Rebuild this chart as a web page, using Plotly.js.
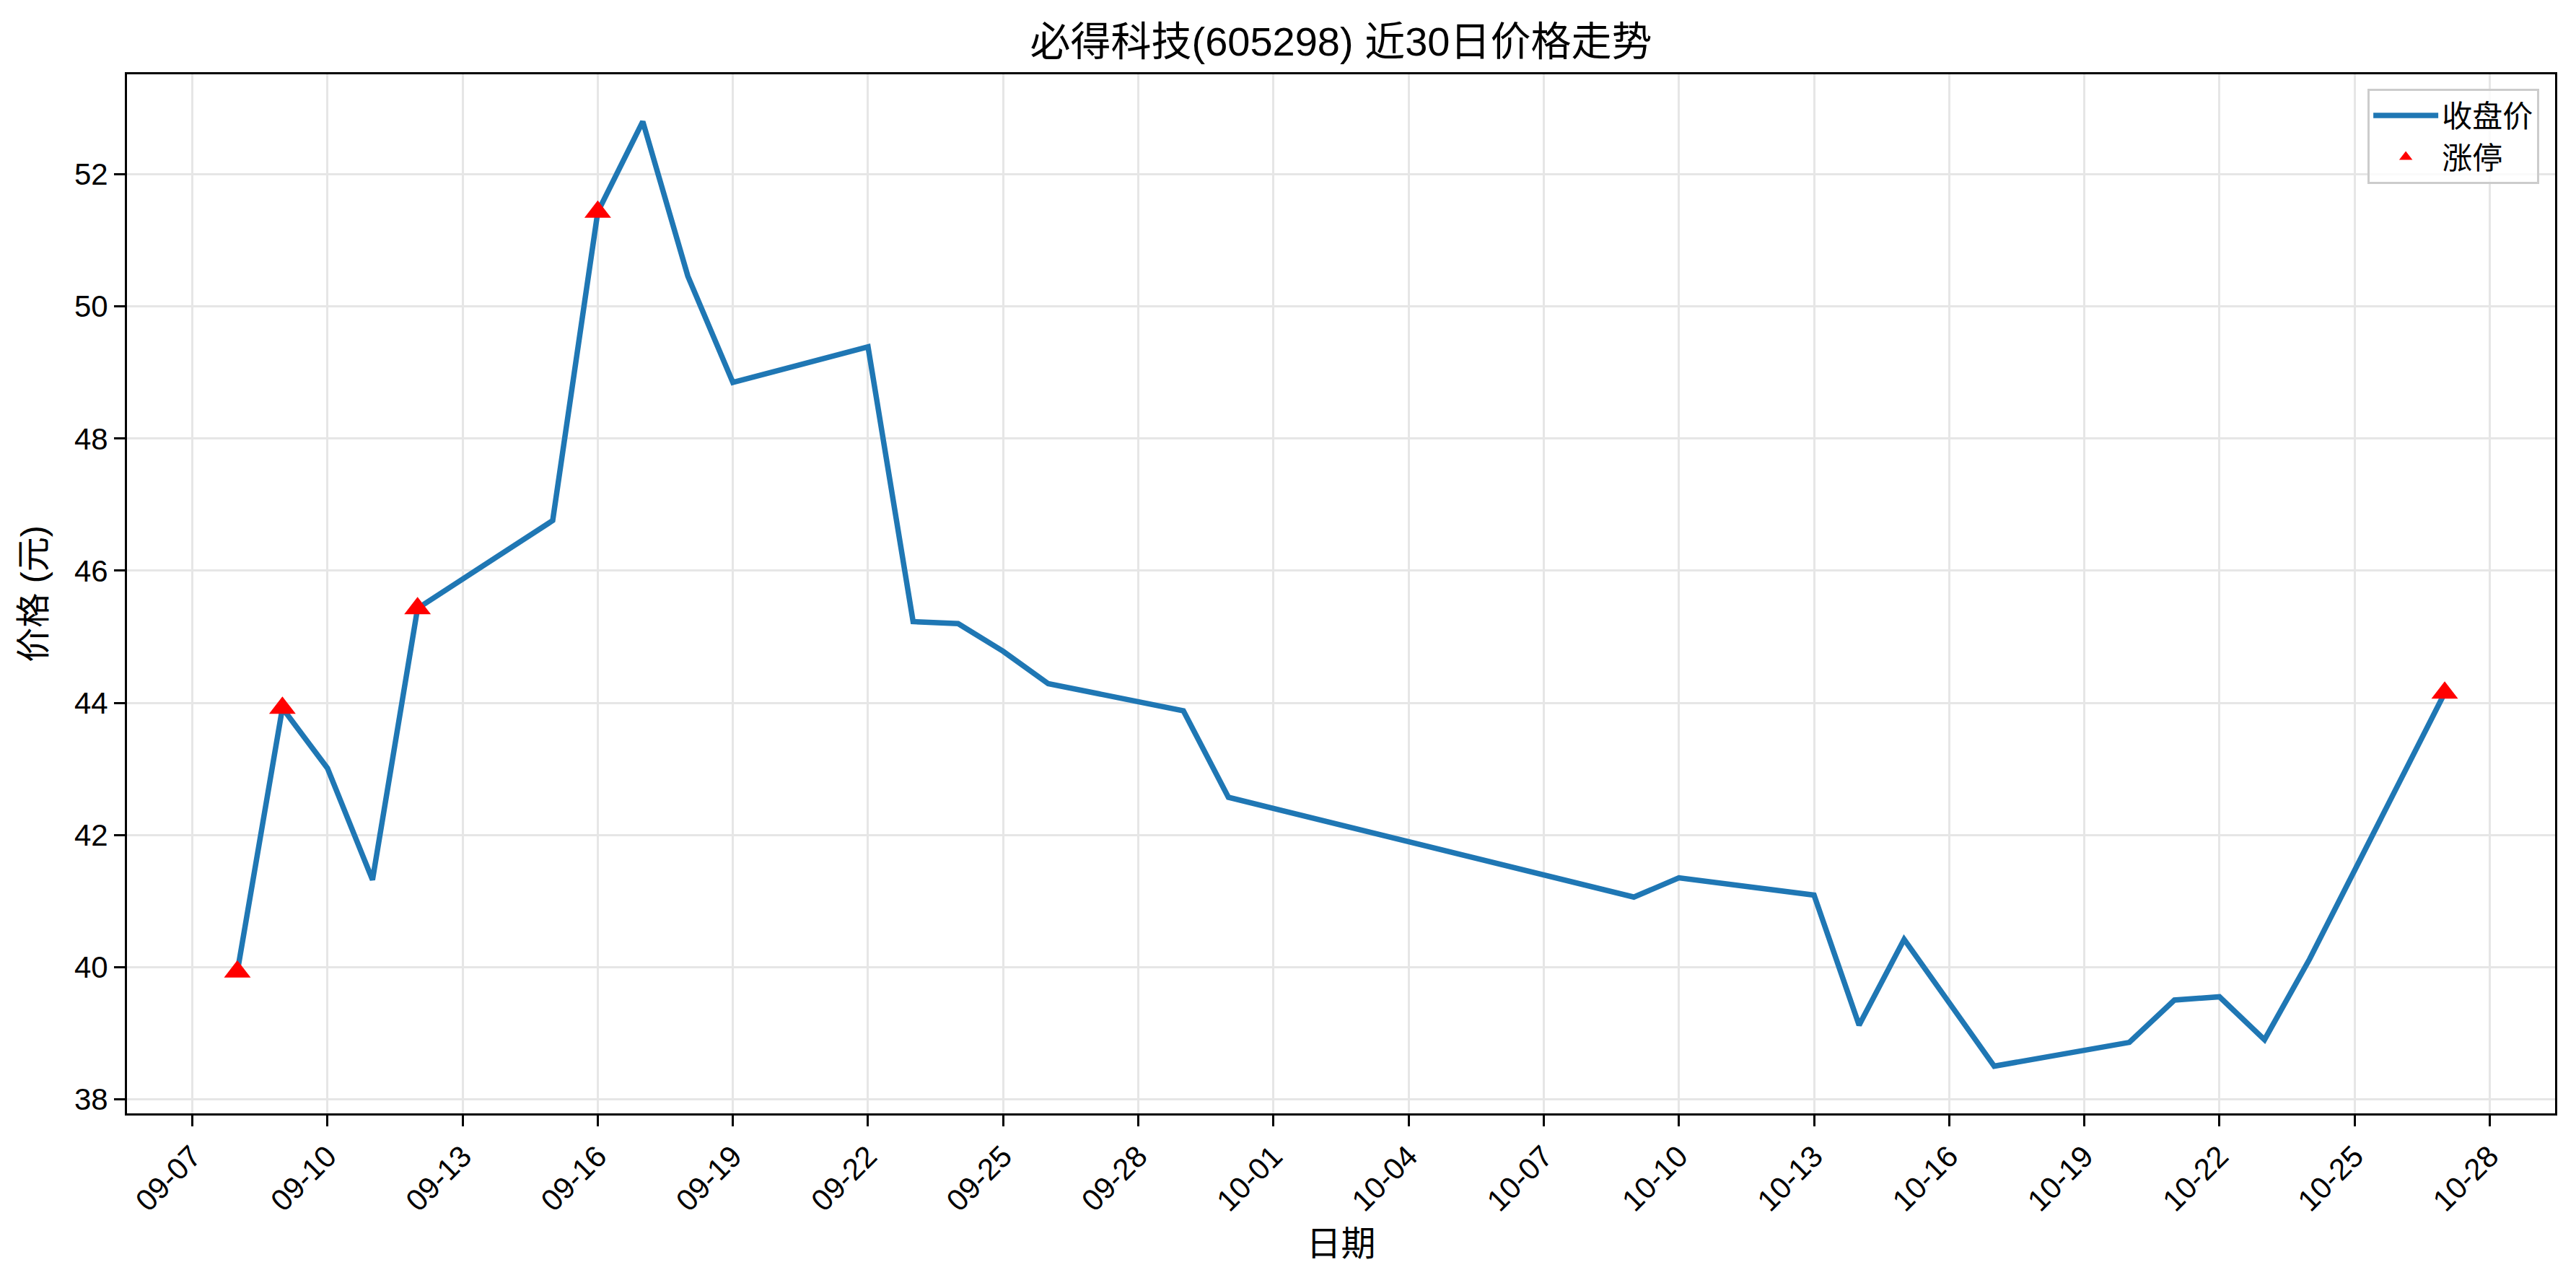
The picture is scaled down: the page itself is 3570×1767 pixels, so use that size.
<!DOCTYPE html>
<html>
<head>
<meta charset="utf-8">
<script src="https://cdn.plot.ly/plotly-3.0.1.min.js"></script>
<style>html,body{margin:0;padding:0;background:#fff;}#chart{width:3570px;height:1767px;}</style>
</head>
<body>
<div id="chart"></div>
<script>
const tradeDates = ['2025-09-08','2025-09-09','2025-09-10','2025-09-11','2025-09-12','2025-09-15','2025-09-16','2025-09-17','2025-09-18','2025-09-19','2025-09-22','2025-09-23','2025-09-24','2025-09-25','2025-09-26','2025-09-29','2025-09-30','2025-10-09','2025-10-10','2025-10-13','2025-10-14','2025-10-15','2025-10-16','2025-10-17','2025-10-20','2025-10-21','2025-10-22','2025-10-23','2025-10-24','2025-10-27'];
const closePrices = [39.93, 43.92, 43.01, 41.32, 45.43, 46.76, 51.43, 52.80, 50.46, 48.85, 49.39, 45.23, 45.20, 44.78, 44.29, 43.88, 42.57, 41.06, 41.35, 41.09, 39.12, 40.42, 39.46, 38.50, 38.86, 39.50, 39.55, 38.90, 40.12, 44.15];
const limitUpDates = ['2025-09-08','2025-09-09','2025-09-12','2025-09-16','2025-10-27'];
const limitUpPrices = limitUpDates.map(d => closePrices[tradeDates.indexOf(d)]);
const titleText = '必得科技(605298) 近30日价格走势';
const xLabel = '日期';
const yLabel = '价格 (元)';
const seriesNames = ['收盘价', '涨停'];

const FONT = 'Liberation Sans, Arial, "Noto Sans CJK SC", sans-serif';

const traces = [
  {x: tradeDates, y: closePrices, type: 'scatter', mode: 'lines', name: seriesNames[0],
   line: {color: '#1f77b4', width: 7.5}},
  {x: limitUpDates, y: limitUpPrices, type: 'scatter', mode: 'markers', name: seriesNames[1],
   marker: {symbol: 'triangle-up', color: '#ff0000', size: 32}}
];

const layout = {
  width: 3570, height: 1767,
  paper_bgcolor: '#ffffff', plot_bgcolor: '#ffffff',
  font: {family: FONT, color: '#000000', size: 42},
  margin: {l: 176, r: 29, t: 103, b: 224},
  title: {text: titleText, font: {size: 56, family: FONT, color: '#000'},
          x: 0.5, xref: 'paper', y: 1 - 57/1767, yref: 'container', yanchor: 'middle'},
  showlegend: true,
  legend: {x: 0.9935, xanchor: 'right', y: 0.986, yanchor: 'top',
           bgcolor: 'rgba(255,255,255,0.8)', bordercolor: '#cccccc', borderwidth: 3,
           font: {size: 42, family: FONT}, itemwidth: 90, tracegroupgap: 0},
  xaxis: {
    type: 'date',
    range: ['2025-09-05 13:12', '2025-10-29 10:48'],
    tick0: '2025-09-07', dtick: 3*86400000, tickformat: '%m-%d',
    tickangle: -45, ticks: 'outside', ticklen: 15, tickwidth: 3, tickcolor: '#000',
    showline: true, linecolor: '#000', linewidth: 3, mirror: true,
    showgrid: true, gridcolor: '#e6e6e6', gridwidth: 3,
    zeroline: false,
    tickfont: {size: 42, family: FONT},
    title: {text: xLabel, font: {size: 48, family: FONT}, standoff: 20}
  },
  yaxis: {
    range: [37.785, 53.515],
    tick0: 38, dtick: 2,
    ticks: 'outside', ticklen: 15, tickwidth: 3, tickcolor: '#000',
    showline: true, linecolor: '#000', linewidth: 3, mirror: true,
    showgrid: true, gridcolor: '#e6e6e6', gridwidth: 3,
    zeroline: false,
    tickfont: {size: 42, family: FONT},
    title: {text: yLabel, font: {size: 48, family: FONT}, standoff: 25}
  }
};

Plotly.newPlot('chart', traces, layout, {staticPlot: true, displayModeBar: false});
</script>
</body>
</html>
